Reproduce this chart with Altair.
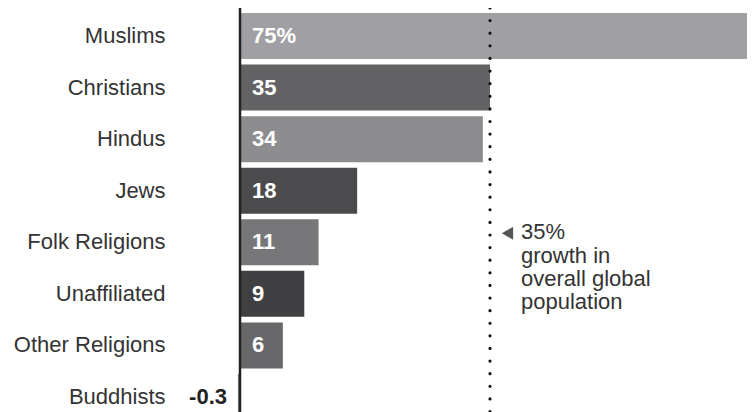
import altair as alt
import pandas as pd

FONT = "Liberation Sans"

religions = ["Muslims", "Christians", "Hindus", "Jews", "Folk Religions",
             "Unaffiliated", "Other Religions", "Buddhists"]
growth = [75, 35, 34, 16.4, 11, 9, 6, -0.3]
labels = ["75%", "35", "34", "18", "11", "9", "6", "-0.3"]
colors = ["#a0a0a4", "#636365", "#8d8d90", "#4b4b4d", "#77777a",
          "#404042", "#68686b", "#8d8d90"]

global_growth = [35]
note_text = ["35%\ngrowth in\noverall global\npopulation"]
note_row = ["Folk Religions"]

df = pd.DataFrame({"religion": religions, "growth": growth,
                   "label": labels, "color": colors})

x_scale = alt.Scale(domain=[-1.12, 70.98], nice=False, zero=False)
y_scale = alt.Scale(domain=religions, paddingInner=0.108, paddingOuter=0.097)

y_enc = alt.Y("religion:N", scale=y_scale, sort=religions,
              axis=alt.Axis(title=None, domain=False, ticks=False, labelPadding=67,
                            labelFontSize=22, labelFont=FONT, labelColor="#333333",
                            labelLimit=300))

base = alt.Chart(df)

bars = base.mark_bar(clip=True).encode(
    x=alt.X("growth:Q", scale=x_scale, axis=None),
    x2=alt.datum(0),
    y=y_enc,
    color=alt.Color("color:N", scale=None),
)

pos_labels = base.transform_filter("datum.growth > 0").mark_text(
    align="left", baseline="middle", dx=12, fontSize=22, fontWeight="bold",
    font=FONT, color="white"
).encode(x=alt.datum(0), y=alt.Y("religion:N", sort=religions), text="label:N")

neg_labels = base.transform_filter("datum.growth <= 0").mark_text(
    align="right", baseline="middle", dx=-13, fontSize=22, fontWeight="bold",
    font=FONT, color="#222222"
).encode(x=alt.datum(0), y=alt.Y("religion:N", sort=religions), text="label:N")

zero_df = pd.DataFrame({"v": [0]})
zero_rule = alt.Chart(zero_df).mark_rule(color="#222222", strokeWidth=2.5).encode(
    x=alt.X("v:Q", scale=x_scale)
)

glob_df = pd.DataFrame({"g": global_growth})
dotted = alt.Chart(glob_df).mark_rule(
    color="#111111", strokeWidth=3.2, strokeDash=[0.01, 12.6], strokeCap="round"
).encode(x=alt.X("g:Q", scale=x_scale))

note_df = pd.DataFrame({"g": global_growth, "text": note_text, "religion": note_row})
arrow = alt.Chart(note_df).transform_calculate(ax="datum.g + 2.45").mark_point(
    shape="triangle-left", filled=True, size=170, color="#555555", opacity=1
).encode(x=alt.X("ax:Q", scale=x_scale), y=alt.Y("religion:N", sort=religions),
         yOffset=alt.value(14))

note = alt.Chart(note_df).transform_calculate(tx="datum.g + 4.34").mark_text(
    align="left", baseline="alphabetic", lineBreak="\n", lineHeight=23.3,
    fontSize=22, font=FONT, color="#333333", dy=-3
).encode(x=alt.X("tx:Q", scale=x_scale), y=alt.Y("religion:N", sort=religions),
         text="text:N")

chart = alt.layer(bars, zero_rule, dotted, pos_labels, neg_labels, arrow, note).properties(
    width=515, height=417,
    autosize=alt.AutoSizeParams(type="none"),
    padding={"left": 224, "top": 0, "right": 0, "bottom": 0},
    background="white",
).configure_view(stroke=None)

chart.save("out.html", embed_options={"renderer": "svg", "actions": False})
